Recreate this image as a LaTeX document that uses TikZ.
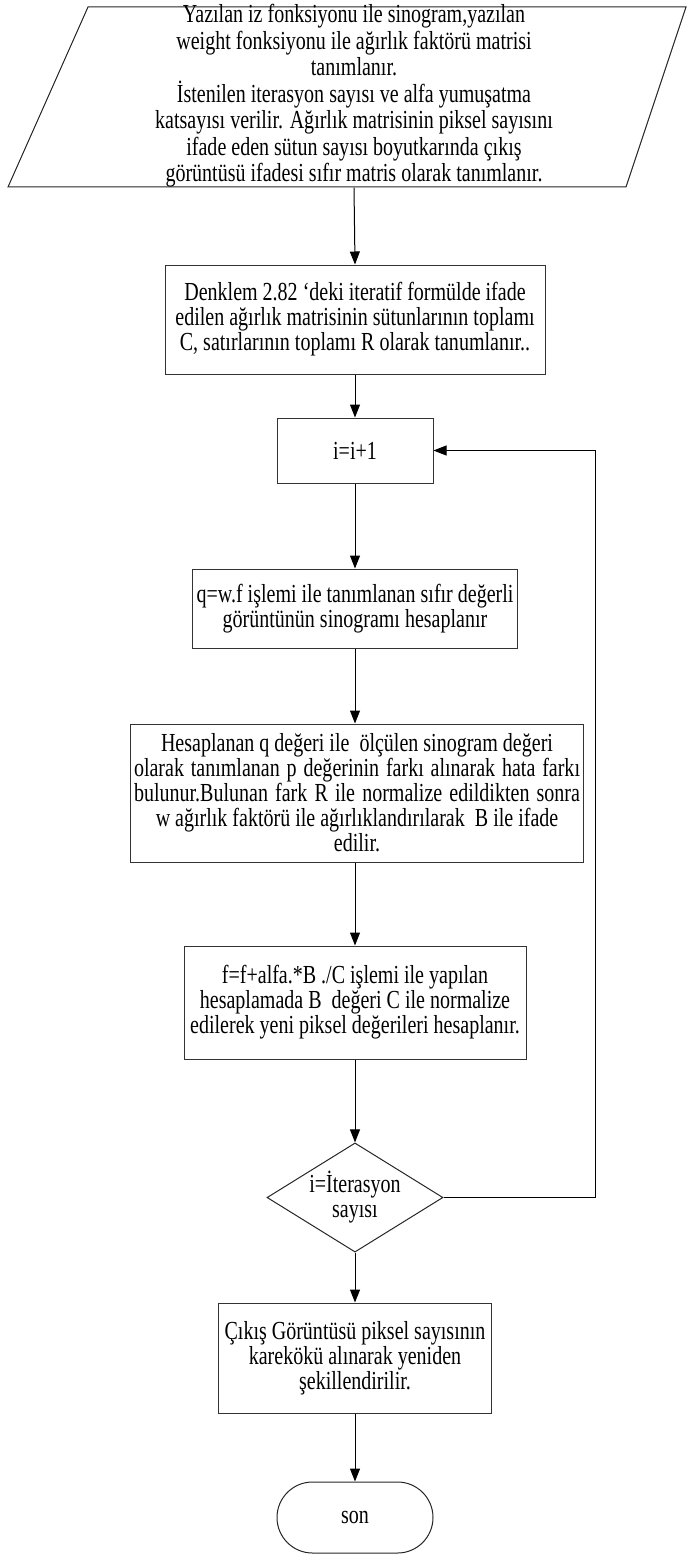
\documentclass[tikz,border=0pt]{standalone}
\usepackage{fontspec}
\setmainfont{Liberation Serif}[FakeStretch=0.77]
\usetikzlibrary{arrows.meta,shapes.geometric,shapes.misc}
\begin{document}
\begin{tikzpicture}[x=1pt,y=-1pt,
  every node/.style={font=\fontsize{26}{25}\selectfont, text=black},
  proc/.style={draw=black!80, line width=1pt, align=center, inner sep=0pt, rectangle},
  arr/.style={-{Triangle[width=10pt,length=13pt]}, line width=1pt, draw=black},
  shapeline/.style={draw=black!85, line width=1pt}
]
\useasboundingbox (0,0) rectangle (688,1554);

% input parallelogram
\draw[shapeline] (8,187) -- (88,7) -- (686,7) -- (626,187) -- cycle;
\node[align=center, inner sep=0pt, minimum height=180pt,
      font=\fontsize{26}{26.5}\selectfont] (inp) at (354,96)
  {Yazılan iz fonksiyonu ile sinogram,yazılan\\
   weight fonksiyonu ile ağırlık faktörü matrisi\\
   tanımlanır.\\
   İstenilen iterasyon sayısı ve alfa yumuşatma\\
   katsayısı verilir. Ağırlık matrisinin piksel sayısını\\
   ifade eden sütun sayısı boyutkarında çıkış\\
   görüntüsü ifadesi sıfır matris olarak tanımlanır.};

\node[proc, minimum width=380pt, minimum height=109pt] (b2) at (355,319.5)
  {Denklem 2.82 ‘deki iteratif formülde ifade\\
   edilen ağırlık matrisinin sütunlarının toplamı\\
   C, satırlarının toplamı R olarak tanumlanır..};

\node[proc, minimum width=156pt, minimum height=65pt] (b3) at (355,450.5) {i=i+1};

\node[proc, minimum width=325pt, minimum height=79pt] (b4) at (355,608.5)
  {q=w.f işlemi ile tanımlanan sıfır değerli\\
   görüntünün sinogramı hesaplanır};

\node[proc, minimum width=453pt, minimum height=138pt] (b5) at (357,793)
  {Hesaplanan q değeri ile\ \ ölçülen sinogram değeri\\
   \makebox[446pt][s]{olarak tanımlanan p değerinin farkı alınarak hata farkı}\\
   \makebox[446pt][s]{bulunur.Bulunan fark R ile normalize edildikten sonra}\\
   w ağırlık faktörü ile ağırlıklandırılarak\ \ B ile ifade\\
   edilir.};

\node[proc, minimum width=342pt, minimum height=113pt] (b6) at (355,1002.5)
  {f=f+alfa.*B ./C işlemi ile yapılan\\
   hesaplamada B\ \ değeri C ile normalize\\
   edilerek yeni piksel değerileri hesaplanır.};

\node[diamond, draw=black!85, line width=1pt, align=center, inner sep=0pt,
      shape aspect=1.6, minimum width=176pt, minimum height=109pt] (dia) at (355,1197.5)
  {i=İterasyon\\sayısı};

\node[proc, minimum width=273pt, minimum height=110pt] (b7) at (355,1358)
  {Çıkış Görüntüsü piksel sayısının\\
   karekökü alınarak yeniden\\
   şekillendirilir.};

\node[rounded rectangle, draw=black!85, line width=1pt, inner sep=0pt,
      minimum width=156pt, minimum height=71pt] (son) at (355,1517.5) {son};

\coordinate (lc) at (595,0);

\draw[arr] (inp.south) -- (b2.north);
\draw[arr] (b2.south) -- (b3.north);
\draw[arr] (b3.south) -- (b4.north);
\draw[arr] (b4.south) -- (b4.south |- b5.north);
\draw[arr] (b5.south -| b6.north) -- (b6.north);
\draw[arr] (b6.south) -- (dia.north);
\draw[arr] (dia.south) -- (b7.north);
\draw[arr] (b7.south) -- (son.north);
\draw[arr] (dia.east) -- (dia.east -| lc) |- (b3.east);
\end{tikzpicture}
\end{document}
